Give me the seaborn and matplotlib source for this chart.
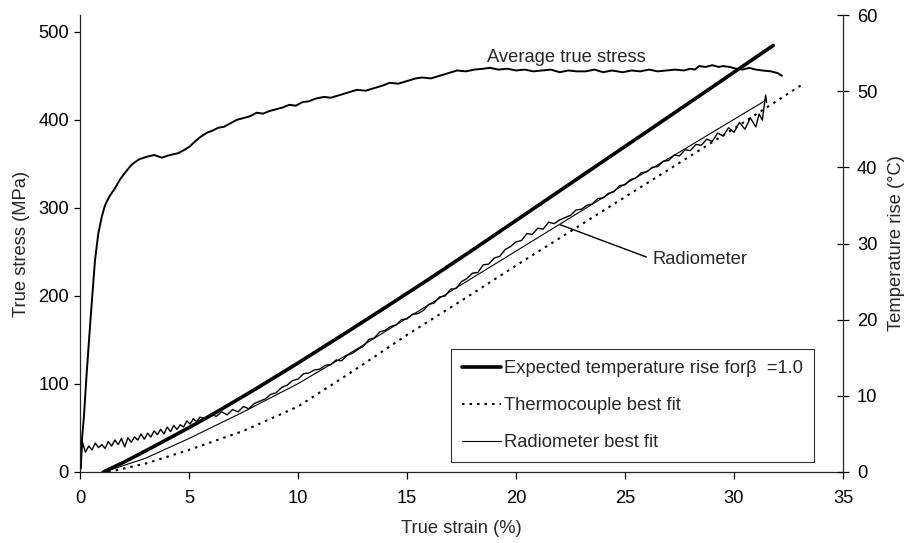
import matplotlib
matplotlib.use("Agg")
import matplotlib.pyplot as plt
import seaborn as sns
import pandas as pd

# ---------------- data ----------------
stress_strain = [0, 0.05, 0.1, 0.18, 0.3, 0.49, 0.69, 0.84, 1.0, 1.15, 1.35, 1.6, 1.83, 2.1, 2.37,
                 2.7, 3.06, 3.4, 3.75, 4.13, 4.5, 4.8, 5.05, 5.3, 5.55, 5.8, 6.1, 6.35, 6.6, 6.9,
                 7.2, 7.5, 7.8, 8.1, 8.4, 8.7, 9.0, 9.3, 9.6, 9.9, 10.2, 10.5, 10.8, 11.2, 11.5,
                 11.9, 12.3, 12.7, 13.1, 13.5, 13.9, 14.2, 14.6, 15.0, 15.4, 15.7, 16.1, 16.5,
                 16.9, 17.3, 17.7, 18.1, 18.5, 18.8, 19.2, 19.6, 20.0, 20.4, 20.8, 21.2, 21.6,
                 22.0, 22.4, 22.8, 23.2, 23.6, 24.0, 24.4, 24.9, 25.3, 25.7, 26.1, 26.5, 26.9,
                 27.3, 27.7, 28.0, 28.2, 28.4, 28.7, 29.0, 29.3, 29.5, 29.8, 30.1, 30.4, 30.7,
                 31.0, 31.3, 31.7, 32.0, 32.2]
stress = [0, 20, 40, 63, 110, 176, 241, 271, 290, 303, 313, 322, 332, 341, 349,
          355, 358, 360, 357, 360, 362, 366, 370, 376, 381, 385, 388, 391, 392, 396,
          400, 402, 404, 408, 407, 410, 412, 414, 417, 416, 420, 421, 424, 426, 425,
          428, 431, 434, 433, 436, 439, 442, 441, 444, 447, 448, 447, 450,
          453, 456, 455, 457, 458, 459, 457, 458, 456, 457, 455, 456, 457,
          454, 456, 455, 455, 457, 454, 456, 454, 456, 455, 457, 455, 456,
          457, 456, 458, 457, 461, 460, 462, 460, 461, 460, 458, 457, 459,
          457, 456, 455, 453, 450]

rad_strain = [0.05, 0.1, 0.25, 0.4, 0.55, 0.7, 0.85, 1.0, 1.15, 1.3, 1.45, 1.6, 1.75, 1.9, 2.05,
              2.2, 2.35, 2.5, 2.65, 2.8, 2.95, 3.1, 3.25, 3.4, 3.55, 3.7, 3.85, 4.0, 4.15, 4.3,
              4.45, 4.6, 4.75, 4.9, 5.05, 5.2, 5.35, 5.5,
              5.75, 6.0, 6.25, 6.5, 6.75, 7.0, 7.25, 7.5, 7.75, 8.0, 8.25, 8.5, 8.75, 9.0,
              9.25, 9.5, 9.75, 10.0, 10.25, 10.5, 10.75, 11.0, 11.25, 11.5, 11.75, 12.0,
              12.25, 12.5, 12.75, 13.0, 13.25, 13.5, 13.75, 14.0, 14.25, 14.5, 14.75, 15.0,
              15.25, 15.5, 15.75, 16.0, 16.25, 16.5, 16.75, 17.0, 17.25, 17.5, 17.75, 18.0,
              18.25, 18.5, 18.75, 19.0, 19.25, 19.5, 19.75, 20.0, 20.25, 20.5, 20.75, 21.0,
              21.25, 21.5, 21.75, 22.0, 22.25, 22.5, 22.75, 23.0, 23.25, 23.5, 23.75, 24.0,
              24.25, 24.5, 24.75, 25.0, 25.25, 25.5, 25.75, 26.0, 26.25, 26.5, 26.75, 27.0,
              27.25, 27.5, 27.75, 28.0, 28.25, 28.5, 28.75, 29.0, 29.25, 29.5, 29.75, 30.0,
              30.25, 30.5, 30.75, 31.0, 31.15, 31.3, 31.45, 31.5]
rad_temp = [0.5, 4.0, 2.6, 3.4, 2.9, 3.8, 3.2, 3.6, 3.1, 4.0, 3.4, 4.2, 3.6, 4.4, 3.3,
            4.5, 3.9, 4.6, 4.2, 5.0, 4.3, 5.1, 4.6, 5.4, 4.9, 5.6, 5.0, 5.9, 5.3, 6.1,
            5.6, 6.2, 5.9, 6.7, 6.3, 7.0, 6.6, 7.2,
            7.0, 7.6, 7.3, 7.9, 7.5, 8.2, 7.9, 8.6, 8.3, 9.0, 9.3, 9.6, 10.2, 10.4,
            11.1, 11.4, 12.0, 12.2, 12.9, 13.0, 13.4, 13.5, 14.0, 14.1, 14.7, 14.6,
            15.3, 15.6, 16.1, 16.5, 17.4, 17.6, 18.4, 18.6, 19.1, 19.3, 20.0, 20.1,
            20.7, 20.8, 21.2, 22.0, 22.2, 23.0, 23.1, 24.0, 24.1, 25.0, 25.4, 26.1,
            26.2, 27.2, 27.3, 28.1, 28.3, 29.2, 29.6, 30.2, 30.4, 31.3, 31.2, 32.0,
            31.9, 32.8, 32.6, 33.1, 33.4, 33.7, 34.4, 34.5, 35.0, 35.2, 35.9, 36.0,
            36.6, 36.8, 37.6, 37.7, 38.4, 38.6, 39.3, 39.4, 40.0, 40.1, 40.8, 40.9,
            41.6, 41.5, 42.3, 42.2, 43.0, 42.9, 43.7, 43.4, 44.5, 44.1, 45.2, 44.6,
            45.9, 45.0, 46.5, 45.3, 47.0, 46.2, 49.5, 48.5]

exp_strain = [1.07, 2, 3, 4, 5, 6, 8, 10, 12, 14, 16, 18, 20, 22, 24, 26, 28, 30, 31.8]
exp_temp = [0, 1.27, 2.76, 4.29, 5.83, 7.43, 10.80, 14.31, 17.92, 21.59, 25.31, 29.13,
            33.02, 36.91, 40.80, 44.68, 48.58, 52.49, 56.0]

tc_strain = [1.3, 3, 5, 7.5, 10, 12.5, 15, 17.5, 20, 22.5, 25, 27.5, 30, 33.2]
tc_temp = [0, 1.1, 2.9, 5.4, 8.6, 13.2, 18.0, 22.5, 27.1, 31.6, 36.1, 40.6, 45.1, 51.0]

rfit_strain = [1.1, 3, 5, 7.5, 10, 12.5, 15, 17.5, 20, 22.5, 25, 27.5, 30, 31.4]
rfit_temp = [0, 1.8, 4.4, 7.9, 11.6, 15.8, 20.2, 24.6, 29.0, 33.4, 37.8, 42.0, 46.3, 48.7]

x_ticks = [0, 5, 10, 15, 20, 25, 30, 35]
left_ticks = [0, 100, 200, 300, 400, 500]
right_ticks = [0, 10, 20, 30, 40, 50, 60]

label_expected = "Expected temperature rise for\u03b2  =1.0"
label_tc = "Thermocouple best fit"
label_rfit = "Radiometer best fit"

# ---------------- styling ----------------
sns.set_style("ticks")
plt.rcParams["font.family"] = ["Liberation Sans", "DejaVu Sans"]
plt.rcParams["axes.linewidth"] = 0.9
FS = 13.2

fig = plt.figure(figsize=(9.06, 5.43), dpi=100)
ax = fig.add_axes([80 / 906, 71 / 543, (843 - 80) / 906, (472 - 15) / 543])
ax2 = ax.twinx()

df_s = pd.DataFrame({"strain": stress_strain, "val": stress})
df_r = pd.DataFrame({"strain": rad_strain, "val": rad_temp})
df_e = pd.DataFrame({"strain": exp_strain, "val": exp_temp})
df_t = pd.DataFrame({"strain": tc_strain, "val": tc_temp})
df_f = pd.DataFrame({"strain": rfit_strain, "val": rfit_temp})

sns.lineplot(data=df_s, x="strain", y="val", ax=ax, color="black", lw=1.4,
             estimator=None, sort=False)
sns.lineplot(data=df_r, x="strain", y="val", ax=ax2, color="black", lw=1.0,
             estimator=None, sort=False)
sns.lineplot(data=df_e, x="strain", y="val", ax=ax2, color="black", lw=2.6,
             estimator=None, sort=False, label=label_expected)
sns.lineplot(data=df_t, x="strain", y="val", ax=ax2, color="black", lw=1.5,
             estimator=None, sort=False, label=label_tc, linestyle=(0, (1.2, 2.4)))
sns.lineplot(data=df_f, x="strain", y="val", ax=ax2, color="black", lw=0.8,
             estimator=None, sort=False, label=label_rfit)

ax.set_xlim(0, 35)
ax.set_ylim(0, 519)
ax2.set_ylim(0, 60)
ax.set_xticks(x_ticks)
ax.set_yticks(left_ticks)
ax2.set_yticks(right_ticks)

ax.set_xlabel("True strain (%)", fontsize=FS, labelpad=9)
ax.set_ylabel("True stress (MPa)", fontsize=FS, labelpad=6)
ax2.set_ylabel("Temperature rise (\u00b0C)", fontsize=FS, labelpad=8)

for a in (ax, ax2):
    a.spines["top"].set_visible(False)
    a.tick_params(labelsize=FS, colors="black", length=4, width=0.9)
ax.tick_params(axis="x", direction="out", length=5, pad=8)
ax.tick_params(axis="y", direction="out", length=4, pad=4)
ax2.tick_params(axis="y", direction="inout", length=8, pad=6)
ax.spines["right"].set_visible(False)
ax2.spines["left"].set_visible(False)
ax2.spines["bottom"].set_visible(False)

leg = ax2.legend(loc="upper left", bbox_to_anchor=(451 / 906, 1 - 349 / 543),
                 bbox_transform=fig.transFigure, borderaxespad=0, frameon=True,
                 fancybox=False, edgecolor="black", fontsize=FS, handlelength=2.1,
                 handletextpad=0.2, labelspacing=1.1, borderpad=0.6)
leg.get_frame().set_linewidth(0.8)

ax.text(487, 543 - 58, "Average true stress", transform=None, fontsize=FS,
        va="center", ha="left")
fig.text(652 / 906, 1 - 259 / 543, "Radiometer", fontsize=FS, va="center", ha="left")
ax2.annotate("", xy=(21.9, 32.6), xytext=(649, 543 - 258), textcoords="figure pixels",
             arrowprops=dict(arrowstyle="-", color="black", lw=1.0))

fig.savefig("out.png", dpi=100)
